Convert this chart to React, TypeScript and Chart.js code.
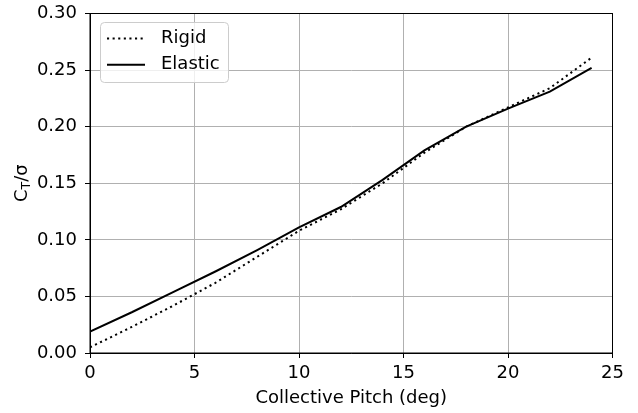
import React, { useEffect, useRef } from "react";
import { Chart, registerables } from "chart.js";

Chart.register(...registerables);

const pitch = [0, 2, 4, 6, 8, 10, 12, 14, 16, 18, 20, 22, 24];
const rigid = [0.005, 0.023, 0.042, 0.062, 0.085, 0.108, 0.127, 0.150, 0.177, 0.200, 0.217, 0.234, 0.261];
const elastic = [0.019, 0.036, 0.054, 0.072, 0.091, 0.111, 0.129, 0.153, 0.179, 0.200, 0.216, 0.231, 0.252];
const seriesNames = ["Rigid", "Elastic"];
const xTitle = "Collective Pitch (deg)";
const yTitleMain = "C";
const yTitleSub = "T";
const yTitleRest = "/σ";

const FONT = "'DejaVu Sans', sans-serif";
const FS = 18;
const DOT_DASH = [2.1, 3.5];

export default function App() {
  const ref = useRef<HTMLCanvasElement>(null);

  useEffect(() => {
    const canvas = ref.current;
    if (!canvas) return;

    const overlay = {
      id: "overlay",
      afterDraw(chart: any) {
        const { ctx, chartArea: a } = chart;
        ctx.save();
        // spines
        ctx.strokeStyle = "#000";
        ctx.lineWidth = 1;
        ctx.setLineDash([]);
        ctx.strokeRect(a.left, a.top, a.right - a.left, a.bottom - a.top);

        // legend
        const lx = 100, ly = 22, lw = 128, lh = 60;
        ctx.beginPath();
        (ctx as any).roundRect(lx + 0.5, ly + 0.5, lw, lh, 4);
        ctx.fillStyle = "rgba(255,255,255,0.8)";
        ctx.fill();
        ctx.strokeStyle = "#cccccc";
        ctx.lineWidth = 1;
        ctx.stroke();

        const rows = [
          { y: 38.5, dash: DOT_DASH, name: seriesNames[0] },
          { y: 64.7, dash: [] as number[], name: seriesNames[1] },
        ];
        ctx.font = `${FS}px ${FONT}`;
        ctx.textBaseline = "middle";
        ctx.textAlign = "left";
        for (const r of rows) {
          ctx.beginPath();
          ctx.setLineDash(r.dash);
          ctx.strokeStyle = "#000";
          ctx.lineWidth = 2;
          ctx.moveTo(107, r.y);
          ctx.lineTo(145, r.y);
          ctx.stroke();
          ctx.setLineDash([]);
          ctx.fillStyle = "#000";
          ctx.fillText(r.name, 161, r.y);
        }

        // y title with subscript
        const cy = (a.top + a.bottom) / 2;
        ctx.translate(22, cy);
        ctx.rotate(-Math.PI / 2);
        ctx.textBaseline = "middle";
        ctx.font = `${FS}px ${FONT}`;
        const w1 = ctx.measureText(yTitleMain).width;
        const w3 = ctx.measureText(yTitleRest).width;
        ctx.font = `12.6px ${FONT}`;
        const w2 = ctx.measureText(yTitleSub).width;
        let x = -(w1 + w2 + w3) / 2;
        ctx.font = `${FS}px ${FONT}`;
        ctx.fillText(yTitleMain, x, 0);
        x += w1;
        ctx.font = `12.6px ${FONT}`;
        ctx.fillText(yTitleSub, x, 4.5);
        x += w2;
        ctx.font = `${FS}px ${FONT}`;
        ctx.fillText(yTitleRest, x, 0);
        ctx.restore();
      },
    };

    const chart = new Chart(canvas, {
      type: "line",
      data: {
        datasets: [
          {
            label: seriesNames[0],
            data: pitch.map((p, i) => ({ x: p, y: rigid[i] })),
            borderColor: "#000",
            borderWidth: 2,
            borderDash: DOT_DASH,
            pointRadius: 0,
            fill: false,
            tension: 0,
          },
          {
            label: seriesNames[1],
            data: pitch.map((p, i) => ({ x: p, y: elastic[i] })),
            borderColor: "#000",
            borderWidth: 2,
            pointRadius: 0,
            fill: false,
            tension: 0,
          },
        ],
      },
      options: {
        responsive: false,
        animation: false,
        layout: { padding: { left: 0, top: 13.5, right: 25.5, bottom: 0 } },
        plugins: { legend: { display: false }, tooltip: { enabled: false } },
        scales: {
          x: {
            type: "linear",
            min: 0,
            max: 25,
            ticks: {
              stepSize: 5,
              color: "#000",
              font: { family: FONT, size: FS },
              padding: 5,
              maxRotation: 0,
            },
            grid: { color: "#b0b0b0", lineWidth: 1, tickColor: "#000", tickLength: 5 },
            border: { display: true, color: "#000", width: 1 },
            title: {
              display: true,
              text: xTitle,
              color: "#000",
              font: { family: FONT, size: FS },
              padding: { top: 0, bottom: 4 },
            },
            afterFit(s: any) {
              s.height = 60;
              s.paddingLeft = 0;
              s.paddingRight = 0;
            },
          },
          y: {
            min: 0,
            max: 0.3,
            ticks: {
              stepSize: 0.05,
              color: "#000",
              font: { family: FONT, size: FS },
              padding: 8,
              callback: (v: any) => Number(v).toFixed(2),
            },
            grid: { color: "#b0b0b0", lineWidth: 1, tickColor: "#000", tickLength: 5 },
            border: { display: true, color: "#000", width: 1 },
            afterFit(s: any) {
              s.width = 90;
              s.paddingTop = 0;
              s.paddingBottom = 0;
            },
          },
        },
      },
      plugins: [overlay],
    });

    return () => chart.destroy();
  }, []);

  return (
    <div style={{ position: "absolute", left: 0, top: 0, width: 638, height: 413, background: "#fff" }}>
      <canvas ref={ref} width={638} height={413} style={{ display: "block" }} />
    </div>
  );
}
